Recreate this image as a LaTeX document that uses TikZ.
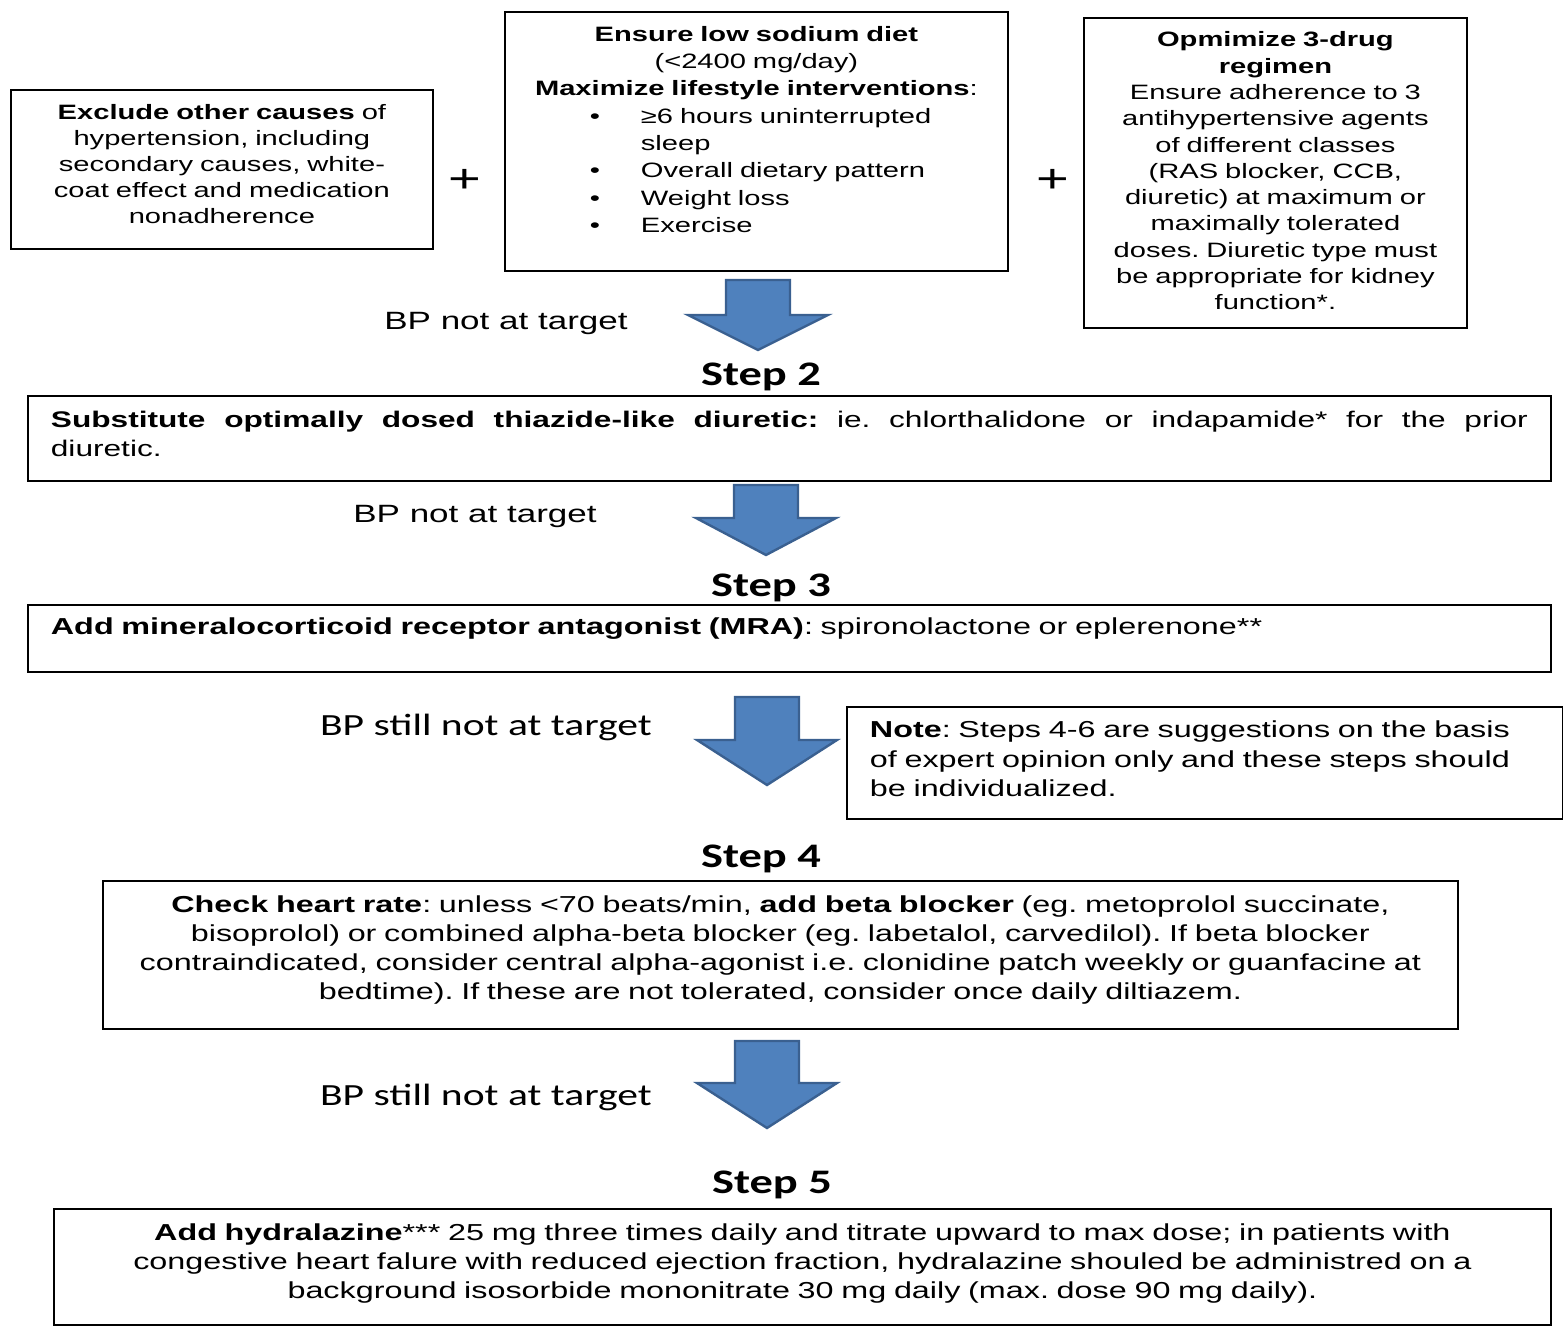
\documentclass[tikz,border=0pt]{standalone}
\usepackage{fontspec}
\setmainfont{Liberation Sans}[FakeStretch=1.4]
\newfontfamily\calfont{Carlito}[FakeStretch=1.35]
\usepackage{tikz}
\usetikzlibrary{calc}
\definecolor{arrowblue}{HTML}{4F81BD}
\definecolor{arrowedge}{HTML}{3A6090}
\frenchspacing
% block arrow: (top centre)(shaft length:total length)
\def\blockarrow(#1,#2)(#3:#4){\draw[bparrow] (#1-32,#2) -- (#1+32,#2) -- (#1+32,#2+#3) -- (#1+70,#2+#3) -- (#1,#2+#4) -- (#1-70,#2+#3) -- (#1-32,#2+#3) -- cycle;}
\newcommand{\bitem}[1]{\hspace*{37.5pt}\makebox[25.5pt][l]{\textbullet}#1}
% room below the text, so that it sits higher in its box
\newcommand{\lift}[1]{\par\vspace{#1}\hrule height 0pt}

\begin{document}
\begin{tikzpicture}[x=0.5pt, y=-0.5pt,
  box/.style={draw, line width=0.9pt, anchor=north west, inner ysep=0pt},
  topfont/.style={font=\fontsize{10.4}{13}\selectfont},
  lowfont/.style={font=\fontsize{11.55}{14.5}\selectfont},
  steplabel/.style={font=\calfont\bfseries\fontsize{17.2}{19}\selectfont, inner sep=0pt},
  bplabel/.style={font=\fontsize{12.5}{15}\selectfont, inner sep=0pt},
  bpstill/.style={font=\calfont\fontsize{15.4}{18}\selectfont, inner sep=0pt},
  plus/.style={font=\fontsize{20}{20}\selectfont, inner sep=0pt},
  bparrow/.style={line width=1.2pt, draw=arrowedge, fill=arrowblue, line join=miter}]
			%%%%% START %%%%%
			\useasboundingbox (0,0) rectangle (1563,1326);
			
			\node[box, topfont, text width=200pt, inner xsep=5.5pt, minimum height=79.5pt, align=center] (exclude) at (10,89) {\textbf{Exclude other causes} of\\hypertension, including\\secondary causes, white-\\coat effect and medication\\nonadherence\lift{5pt}};
			\node[plus] (plusa) at (465,181) {+};
			
			\node[box, font=\fontsize{10.4}{13.65}\selectfont, text width=241.5pt, inner xsep=5pt, minimum height=129.5pt, align=left] (diet) at (504,11) {{\centering\textbf{Ensure low sodium diet}\\(<2400 mg/day)\\\textbf{Maximize lifestyle interventions}:\par}
				\bitem{≥6 hours uninterrupted}\\\hspace*{63pt}sleep\\\bitem{Overall dietary pattern}\\\bitem{Weight loss}\\\bitem{Exercise}\lift{12pt}};
			\node[plus] (plusb) at (1053,181) {+};
			
			\node[box, font=\fontsize{10.4}{13.15}\selectfont, text width=181.5pt, inner xsep=5pt, minimum height=155pt, align=center] (regimen) at (1083,17) {\textbf{Opmimize 3-drug}\\\textbf{regimen}\\Ensure adherence to 3\\antihypertensive agents\\of different classes\\(RAS blocker, CCB,\\diuretic) at maximum or\\maximally tolerated\\doses. Diuretic type must\\be appropriate for kidney\\function*.\lift{2pt}};
			
			\blockarrow(758,280)(35:70)
			\node[bplabel] (bp1) at (506,323) {BP not at target};
			
			\node[steplabel] (lab2) at (761,377) {Step 2};
			\node[box, font=\fontsize{11.3}{14.5}\selectfont, text width=738.5pt, inner xsep=11.5pt, minimum height=42.5pt, align=justify] (step2) at (27,395) {\textbf{Substitute optimally dosed thiazide-like diuretic:} ie. chlorthalidone or indapamide* for the prior\linebreak diuretic.\lift{4pt}};
			
			\blockarrow(766,485)(33:70)
			\node[bplabel] (bp2) at (475,516) {BP not at target};
			
			\node[steplabel] (lab3) at (771,588) {Step 3};
			\node[box, lowfont, text width=738.5pt, inner xsep=11.5pt, minimum height=33.5pt, align=left] (step3) at (27,604) {\textbf{Add mineralocorticoid receptor antagonist (MRA)}: spironolactone or eplerenone**\lift{9.5pt}};
			
			\blockarrow(767,697)(43:88)
			\node[bpstill] (bp3) at (486,727) {BP still not at target};
			\node[box, font=\fontsize{11.55}{14.75}\selectfont, text width=335pt, inner xsep=11.5pt, minimum height=56pt, align=left] (note) at (846,706) {\textbf{Note}: Steps 4-6 are suggestions on the basis\\of expert opinion only and these steps should\\be individualized.\lift{4pt}};
			
			\node[steplabel] (lab4) at (761,859) {Step 4};
			\node[box, lowfont, text width=654.5pt, inner xsep=11.5pt, minimum height=74pt, align=center] (step4) at (102,880) {\textbf{Check heart rate}: unless <70 beats/min, \textbf{add beta blocker} (eg. metoprolol succinate,\\bisoprolol) or combined alpha-beta blocker (eg. labetalol, carvedilol). If beta blocker\\contraindicated, consider central alpha-agonist i.e. clonidine patch weekly or guanfacine at\\bedtime). If these are not tolerated, consider once daily diltiazem.\lift{4.5pt}};
			
			\blockarrow(767,1041)(42:87)
			\node[bpstill] (bp4) at (486,1097) {BP still not at target};
			
			\node[steplabel] (lab5) at (772,1185) {Step 5};
			\node[box, lowfont, text width=725.5pt, inner xsep=11.5pt, minimum height=58pt, align=center] (step5) at (53,1208) {\textbf{Add hydralazine}*** 25 mg three times daily and titrate upward to max dose; in patients with\\congestive heart falure with reduced ejection fraction, hydralazine shouled be administred on a\\background isosorbide mononitrate 30 mg daily (max. dose 90 mg daily).\lift{3pt}};
			
			%%%%% END %%%%%
\end{tikzpicture}
\end{document}
